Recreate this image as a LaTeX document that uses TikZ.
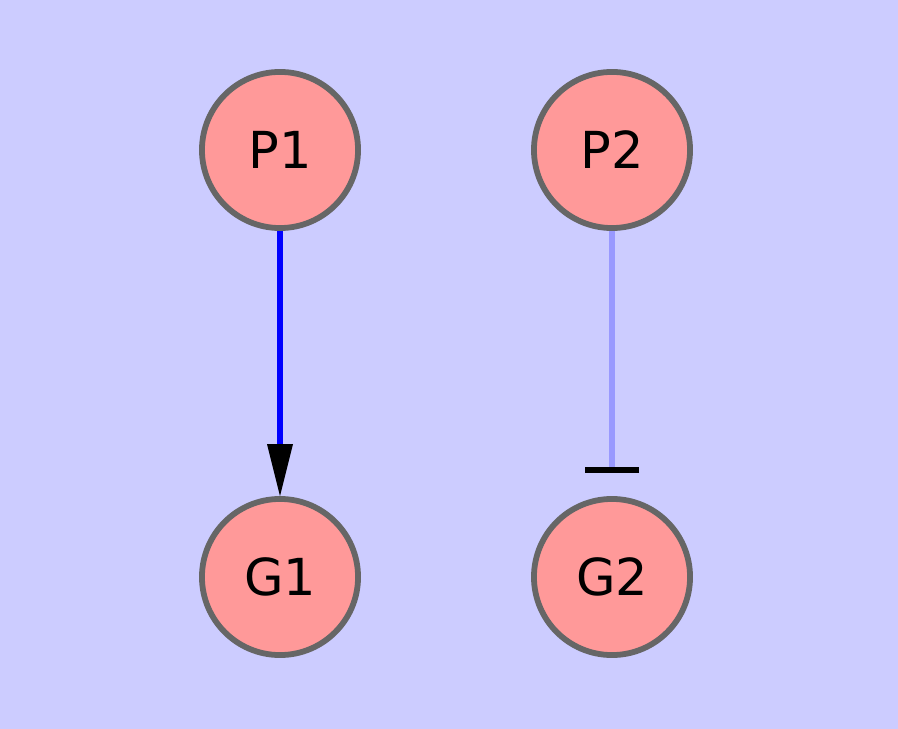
\documentclass[tikz,border=0pt]{standalone}
\usepackage{fontspec}
\setmainfont{DejaVu Sans}
\usetikzlibrary{arrows.meta,calc}
\definecolor{bgc}{HTML}{CCCCFF}
\definecolor{nodefill}{HTML}{FF9999}
\definecolor{nodeline}{HTML}{666666}
\definecolor{actline}{HTML}{0000FF}
\definecolor{inhline}{HTML}{9999FF}
\tikzset{
  gene/.style={circle, draw=nodeline, fill=nodefill, line width=1.65pt,
    minimum size=1.56cm, inner sep=0pt, font=\fontsize{14.5}{17}\selectfont, text=black},
  actedge/.style={draw=actline, line width=1.6pt,
    -{Triangle[length=0.52cm,width=0.26cm,line width=0pt,black]}},
  inhedge/.style={draw=inhline, line width=1.5pt,
    -{Bar[width=0.54cm,line width=1.8pt,black]}}
}
\begin{document}
\begin{tikzpicture}[x=0.01cm,y=-0.01cm]
\useasboundingbox (0,0) rectangle (898,728);
\fill[bgc] (-5,-5) rectangle (903,733);
\node[gene] (P1) at (280,150) {P1};
\node[gene] (P2) at (612,150) {P2};
\node[gene] (G1) at (280,577) {G1};
\node[gene] (G2) at (612,577) {G2};
\coordinate (b2) at ($(G2.north)+(0,-23)$);
\draw[actedge] (P1) -- (G1);
\draw[inhedge] (P2) -- (b2);
\end{tikzpicture}
\end{document}
